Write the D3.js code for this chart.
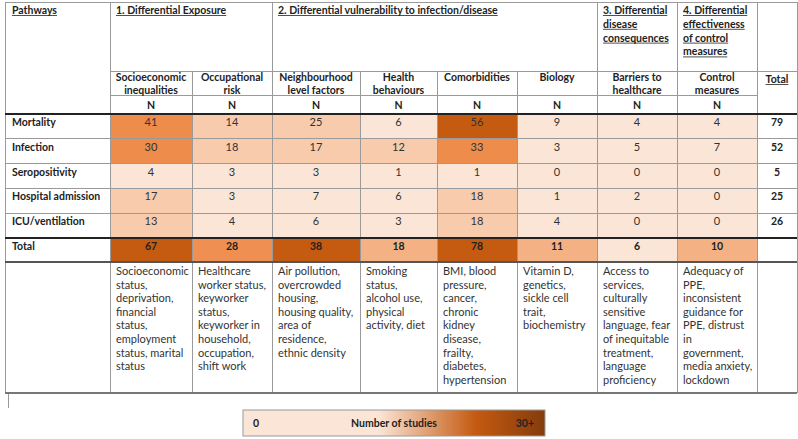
<!DOCTYPE html>
<html>
<head>
<meta charset="utf-8">
<script src="https://cdn.jsdelivr.net/npm/d3@7"></script>
<style>
  body { margin: 0; background: #fff; }
  svg { display: block; font-family: Lato, "Open Sans", sans-serif; }
</style>
</head>
<body>
<div id="chart"></div>
<script>
// --- data ---
const outcomes = ["Mortality", "Infection", "Seropositivity", "Hospital admission", "ICU/ventilation"];
const factors = ["Socioeconomic inequalities", "Occupational risk", "Neighbourhood level factors",
    "Health behaviours", "Comorbidities", "Biology", "Barriers to healthcare", "Control measures"];
const factorLines = [["Socioeconomic", "inequalities"], ["Occupational", "risk"], ["Neighbourhood", "level factors"],
    ["Health", "behaviours"], ["Comorbidities"], ["Biology"], ["Barriers to", "healthcare"], ["Control", "measures"]];
const pathways = [
    { lines: ["1. Differential Exposure"], from: 0, to: 1 },
    { lines: ["2. Differential vulnerability to infection/disease"], from: 2, to: 5 },
    { lines: ["3. Differential", "disease", "consequences"], from: 6, to: 6 },
    { lines: ["4. Differential", "effectiveness", "of control", "measures"], from: 7, to: 7 }
];
const values = [
    [41, 14, 25, 6, 56, 9, 4, 4],
    [30, 18, 17, 12, 33, 3, 5, 7],
    [4, 3, 3, 1, 1, 0, 0, 0],
    [17, 3, 7, 6, 18, 1, 2, 0],
    [13, 4, 6, 3, 18, 4, 0, 0]
];
const rowTotals = [79, 52, 5, 25, 26];
const colTotals = [67, 28, 38, 18, 78, 11, 6, 10];
const examples = [
    ["Socioeconomic", "status,", "deprivation,", "financial", "status,", "employment", "status, marital", "status"],
    ["Healthcare", "worker status,", "keyworker", "status,", "keyworker in", "household,", "occupation,", "shift work"],
    ["Air pollution,", "overcrowded", "housing,", "housing quality,", "area of", "residence,", "ethnic density"],
    ["Smoking", "status,", "alcohol use,", "physical", "activity, diet"],
    ["BMI, blood", "pressure,", "cancer,", "chronic", "kidney", "disease,", "frailty,", "diabetes,", "hypertension"],
    ["Vitamin D,", "genetics,", "sickle cell", "trait,", "biochemistry"],
    ["Access to", "services,", "culturally", "sensitive", "language, fear", "of inequitable", "treatment,", "language", "proficiency"],
    ["Adequacy of", "PPE,", "inconsistent", "guidance for", "PPE, distrust", "in", "government,", "media anxiety,", "lockdown"]
];
const legendLabels = ["0", "Number of studies", "30+"];

// --- layout ---
const W = 798, H = 439;
const tLeft = 5, tRight = 797, tTop = 2;
const colEdges = [110, 192, 272, 360, 437, 517, 597, 677];
const colEnd = 757;
const headRow1 = 71, headRow2 = 95, bodyTop = 114, bodyBottom = 238, totalBottom = 262, descBottom = 393;
const grid = "#9a9a9a";
const fs = 10.5;

const svg = d3.select("#chart").append("svg").attr("width", W).attr("height", H);

const x = d3.scaleOrdinal(factors, colEdges);
const colW = d => {
    const i = factors.indexOf(d);
    return (i < factors.length - 1 ? colEdges[i + 1] : colEnd) - colEdges[i];
};
const y = d3.scaleBand(outcomes, [bodyTop, bodyBottom]);

// colour bins
const bodyColor = d3.scaleThreshold([10, 30, 50], ["#fbe5d6", "#f8cbad", "#ee8c4b", "#c55a11"]);
const totalColor = d3.scaleThreshold([10, 20, 35], ["#fbe5d6", "#f4b183", "#ef8f51", "#c55a11"]);

// cells
const cells = [];
values.forEach((row, r) => row.forEach((v, c) => cells.push({ outcome: outcomes[r], factor: factors[c], v })));

svg.append("g").selectAll("rect").data(cells).join("rect")
    .attr("x", d => x(d.factor)).attr("y", d => y(d.outcome))
    .attr("width", d => colW(d.factor)).attr("height", y.bandwidth())
    .attr("fill", d => bodyColor(d.v));

svg.append("g").selectAll("rect").data(colTotals).join("rect")
    .attr("x", (d, i) => x(factors[i])).attr("y", bodyBottom)
    .attr("width", (d, i) => colW(factors[i])).attr("height", totalBottom - bodyBottom)
    .attr("fill", d => totalColor(d));

// grid lines
const gl = svg.append("g").attr("stroke", grid).attr("stroke-width", 1).attr("shape-rendering", "crispEdges");
const hline = (x1, x2, yy, col, w) => gl.append("line").attr("x1", x1).attr("x2", x2).attr("y1", yy).attr("y2", yy)
    .attr("stroke", col || grid).attr("stroke-width", w || 1);
const vline = (xx, y1, y2) => gl.append("line").attr("x1", xx).attr("x2", xx).attr("y1", y1).attr("y2", y2);

hline(tLeft, tRight, tTop);
hline(colEdges[0], tRight, headRow1);
hline(colEdges[0], colEnd, headRow2);
outcomes.slice(1).forEach(o => hline(tLeft, tRight, y(o)));
vline(tLeft, tTop, descBottom);
vline(tRight, tTop, descBottom);
// header row 1 dividers
[colEdges[0], x(factors[2]), x(factors[6]), x(factors[7]), colEnd].forEach(xx => vline(xx, tTop, headRow1));
// full dividers
colEdges.concat([colEnd]).forEach(xx => vline(xx, headRow1, descBottom));
vline(8, descBottom, 408);
hline(tLeft, tRight, descBottom, "#777", 2);
hline(tLeft, tRight, bodyTop, "#222", 2);
hline(tLeft, tRight, bodyBottom, "#222", 2);
hline(tLeft, tRight, totalBottom, "#555", 1.5);

// text helpers
function underline(sel) {
    sel.each(function () {
        const t = d3.select(this);
        const w = this.getComputedTextLength();
        const anchor = t.attr("text-anchor") || "start";
        const tx = +t.attr("x"), ty = +t.attr("y");
        const x0 = anchor === "middle" ? tx - w / 2 : tx;
        svg.append("line").attr("x1", x0).attr("x2", x0 + w).attr("y1", ty + 1.5).attr("y2", ty + 1.5)
            .attr("stroke", "#222").attr("stroke-width", 0.8);
    });
}

const txt = svg.append("g").attr("font-size", fs).attr("fill", "#222");

// header
txt.append("text").attr("x", 12).attr("y", 14).attr("font-weight", 700).text("Pathways").call(underline);
pathways.forEach(p => {
    p.lines.forEach((l, i) => {
        txt.append("text").attr("x", x(factors[p.from]) + 6).attr("y", 14 + i * 13.8)
            .attr("font-weight", 700).text(l).call(underline);
    });
});
factorLines.forEach((lines, c) => {
    lines.forEach((l, i) => {
        txt.append("text").attr("x", x(factors[c]) + colW(factors[c]) / 2).attr("y", 81 + i * 12.5)
            .attr("text-anchor", "middle").attr("font-weight", 700).text(l);
    });
    txt.append("text").attr("x", x(factors[c]) + colW(factors[c]) / 2).attr("y", 109)
        .attr("text-anchor", "middle").attr("font-weight", 700).text("N");
});
txt.append("text").attr("x", (colEnd + tRight) / 2).attr("y", 83).attr("text-anchor", "middle")
    .attr("font-weight", 700).text("Total").call(underline);

// row labels and values
outcomes.forEach(o => {
    txt.append("text").attr("x", 12).attr("y", y(o) + 12).attr("font-weight", 700).text(o);
});
txt.append("text").attr("x", 12).attr("y", bodyBottom + 12).attr("font-weight", 700).text("Total");

txt.append("g").selectAll("text").data(cells).join("text")
    .attr("x", d => x(d.factor) + colW(d.factor) / 2).attr("y", d => y(d.outcome) + 12)
    .attr("text-anchor", "middle").attr("font-size", 11).attr("fill", "#333").text(d => d.v);

txt.append("g").selectAll("text").data(rowTotals).join("text")
    .attr("x", (colEnd + tRight) / 2).attr("y", (d, i) => y(outcomes[i]) + 12)
    .attr("text-anchor", "middle").attr("font-weight", 700).text(d => d);

txt.append("g").selectAll("text").data(colTotals).join("text")
    .attr("x", (d, i) => x(factors[i]) + colW(factors[i]) / 2).attr("y", bodyBottom + 12)
    .attr("text-anchor", "middle").attr("font-weight", 700).text(d => d);

// examples row
examples.forEach((lines, c) => {
    lines.forEach((l, i) => {
        txt.append("text").attr("x", x(factors[c]) + 6).attr("y", totalBottom + 13 + i * 13.6)
            .attr("font-size", 11).attr("fill", "#333").text(l);
    });
});

// legend
const defs = svg.append("defs");
const grad = defs.append("linearGradient").attr("id", "lg");
[[0, "#fbe5d6"], [0.45, "#fbe5d6"], [0.77, "#c55a11"], [1, "#843c0c"]].forEach(([o, c]) =>
    grad.append("stop").attr("offset", o).attr("stop-color", c));
const lx = 243, lw = 302, ly = 410, lh = 26;
svg.append("rect").attr("x", lx).attr("y", ly).attr("width", lw).attr("height", lh)
    .attr("fill", "url(#lg)").attr("stroke", "#999");
const lt = svg.append("g").attr("font-size", 10.5).attr("font-weight", 700).attr("fill", "#222");
lt.append("text").attr("x", lx + 10).attr("y", ly + 17).text(legendLabels[0]);
lt.append("text").attr("x", lx + 151).attr("y", ly + 17).attr("text-anchor", "middle").text(legendLabels[1]);
lt.append("text").attr("x", lx + lw - 11).attr("y", ly + 17).attr("text-anchor", "end").text(legendLabels[2]);
</script>
</body>
</html>
